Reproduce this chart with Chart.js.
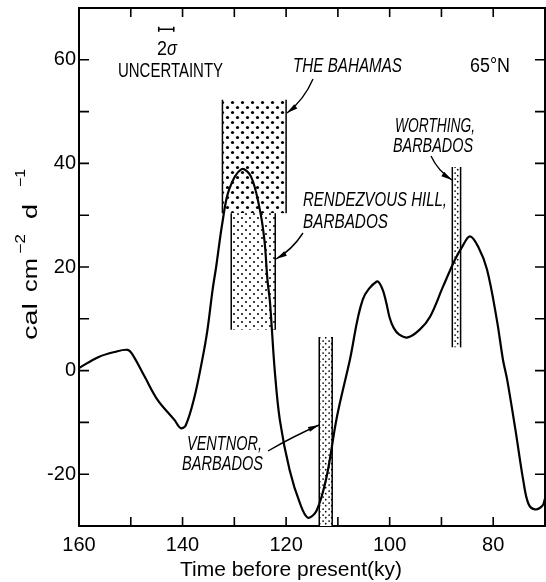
<!DOCTYPE html>
<html>
<head>
<meta charset="utf-8">
<script src="https://cdn.jsdelivr.net/npm/chart.js@4.4.0/dist/chart.umd.min.js"></script>
<style>
  html, body { margin: 0; padding: 0; background: #fff; }
</style>
</head>
<body>
<canvas id="insolationChart" width="546" height="582"></canvas>
<script>
// insolation anomaly curve, 65 N
const ages = [160, 156.3, 153.1, 150.6, 149.6, 147.3, 144.8, 141.5, 140.4, 139.4, 137.7, 136.1, 135.2, 134.2, 133.5,
  132.3, 131.0, 128.6, 126.8, 125.2, 124.2, 123.6, 123.1, 122.2, 121.2, 119.3, 117.3, 115.8, 114.1, 112.2,
  110.2, 107.7, 105.2, 102.5, 101.5, 100.7, 100.0, 99.2, 98.2, 96.5, 94.2, 92.2, 89.7, 87.4, 86.0, 84.5, 82.9,
  81.2, 79.3, 78.1, 77.3, 75.7, 74.2, 73.2, 71.9, 70.5, 70.0];
const insolation = [0.5, 2.6, 3.6, 4.0, 3.0, -1.2, -5.7, -9.6, -11.1, -10.6, -5.1, 2.6, 7.8, 15.6, 20.1,
  28.6, 35.0, 38.9, 37.5, 31.7, 25.3, 17.5, 13.0, 0.1, -9.6, -19.3, -25.7, -28.4, -27.0, -20.6,
  -9.0, 2.0, 13.7, 17.2, 16.0, 13.3, 10.2, 8.2, 7.0, 6.4, 7.9, 10.4, 16.2, 21.4, 23.9, 25.9, 23.9,
  19.5, 9.8, 2.0, -1.8, -11.5, -21.2, -25.7, -26.8, -26.1, -24.7];

const xTickLabels = [160, 140, 120, 100, 80];
const yTickLabels = [60, 40, 20, 0, -20];

// dated reef terraces (age range in ky, insolation range)
const sites = ['THE BAHAMAS', 'RENDEZVOUS HILL, BARBADOS', 'VENTNOR, BARBADOS', 'WORTHING, BARBADOS'];
const siteOldest = [132.3, 130.6, 113.6, 87.9];
const siteYoungest = [120.0, 122.1, 111.1, 86.3];
const siteLow = [30.4, 7.9, -30, 4.5];
const siteHigh = [52.3, 30.4, 6.5, 39.3];

// 2 sigma age uncertainty bar
const sigmaFrom = 144.6;
const sigmaTo = 141.7;
const sigmaLevel = 65.9;

function dotPattern(step, r) {
  const c = document.createElement('canvas');
  c.width = step * 2; c.height = step * 2;
  const g = c.getContext('2d');
  g.fillStyle = '#000';
  [[0.5, 0.5], [1.5, 1.5]].forEach(p => {
    g.beginPath();
    g.arc(p[0] * step, p[1] * step, r, 0, Math.PI * 2);
    g.fill();
  });
  return g.createPattern(c, 'repeat');
}

const ctx = document.getElementById('insolationChart');
const fills = [dotPattern(5, 1.6), dotPattern(4, 1.0), dotPattern(3.4, 0.85), dotPattern(3.4, 0.85)];

function fitText(c, text, x, y, w, font) {
  c.save();
  c.font = font;
  const m = c.measureText(text).width;
  c.translate(x, y);
  c.scale(w / m, 1);
  c.fillText(text, 0, 0);
  c.restore();
}

function arrow(c, x0, y0, cx, cy, x1, y1) {
  c.beginPath();
  c.moveTo(x0, y0);
  c.quadraticCurveTo(cx, cy, x1, y1);
  c.stroke();
  const a = Math.atan2(y1 - cy, x1 - cx);
  c.save();
  c.translate(x1, y1);
  c.rotate(a);
  c.beginPath();
  c.moveTo(0, 0);
  c.lineTo(-11, -2.6);
  c.lineTo(-11, 2.6);
  c.closePath();
  c.fill();
  c.restore();
}

const decorations = {
  id: 'decorations',
  beforeDatasetsDraw(chart) {
    const c = chart.ctx, xs = chart.scales.x, ys = chart.scales.y, area = chart.chartArea;
    c.save();
    c.beginPath();
    c.rect(area.left, area.top, area.right - area.left, area.bottom - area.top);
    c.clip();
    sites.forEach((s, i) => {
      const x0 = xs.getPixelForValue(siteOldest[i]);
      const x1 = xs.getPixelForValue(siteYoungest[i]);
      const y0 = ys.getPixelForValue(siteHigh[i]);
      const y1 = ys.getPixelForValue(siteLow[i]);
      c.fillStyle = '#fff';
      c.fillRect(x0, y0, x1 - x0, y1 - y0);
      c.fillStyle = fills[i];
      c.fillRect(x0, y0, x1 - x0, y1 - y0);
      c.strokeStyle = '#000';
      c.lineWidth = 1.5;
      c.beginPath();
      c.moveTo(x0, y0); c.lineTo(x0, y1);
      c.moveTo(x1, y0); c.lineTo(x1, y1);
      c.stroke();
    });
    c.restore();
  },
  afterDraw(chart) {
    const c = chart.ctx, xs = chart.scales.x, ys = chart.scales.y, a = chart.chartArea;
    c.save();
    c.strokeStyle = '#000';
    c.fillStyle = '#000';
    // frame top and right
    c.lineWidth = 2;
    c.beginPath();
    c.moveTo(a.left, a.top); c.lineTo(a.right, a.top); c.lineTo(a.right, a.bottom);
    c.stroke();
    // inward tick marks every 10 units
    c.lineWidth = 1.6;
    c.beginPath();
    for (let v = Math.ceil(xs.min / 10) * 10; v <= xs.max; v += 10) {
      const px = xs.getPixelForValue(v);
      if (px <= a.left + 2 || px >= a.right - 2) continue;
      c.moveTo(px, a.bottom); c.lineTo(px, a.bottom - 9);
      c.moveTo(px, a.top); c.lineTo(px, a.top + 9);
    }
    for (let v = Math.ceil(ys.min / 10) * 10; v <= ys.max; v += 10) {
      const py = ys.getPixelForValue(v);
      if (py >= a.bottom - 2 || py <= a.top + 2) continue;
      c.moveTo(a.left, py); c.lineTo(a.left + 10, py);
      c.moveTo(a.right, py); c.lineTo(a.right - 10, py);
    }
    c.stroke();

    // 2 sigma bar
    const sx0 = xs.getPixelForValue(sigmaFrom), sx1 = xs.getPixelForValue(sigmaTo), sy = ys.getPixelForValue(sigmaLevel);
    c.lineWidth = 1.6;
    c.beginPath();
    c.moveTo(sx0, sy); c.lineTo(sx1, sy);
    c.moveTo(sx0, sy - 2.5); c.lineTo(sx0, sy + 2.5);
    c.moveTo(sx1, sy - 2.5); c.lineTo(sx1, sy + 2.5);
    c.stroke();

    const up = '20px "Liberation Sans", Arial, sans-serif';
    const it = 'italic 20px "Liberation Sans", Arial, sans-serif';
    c.textBaseline = 'alphabetic';
    c.textAlign = 'left';
    fitText(c, '2', 157, 55, 10, up);
    fitText(c, '\u03c3', 167, 55, 10, it);
    fitText(c, 'UNCERTAINTY', 118, 77, 105, up);
    fitText(c, '65\u00b0N', 470, 72, 40, up);
    fitText(c, 'THE BAHAMAS', 293, 72, 109, it);
    fitText(c, 'WORTHING,', 395, 132, 80, it);
    fitText(c, 'BARBADOS', 393, 152, 80, it);
    fitText(c, 'RENDEZVOUS HILL,', 303, 206, 144, it);
    fitText(c, 'BARBADOS', 303, 228, 85, it);
    fitText(c, 'VENTNOR,', 187, 450, 75, it);
    fitText(c, 'BARBADOS', 182, 470, 81, it);

    c.lineWidth = 1.4;
    arrow(c, 313, 79, 304, 100, 287, 113);
    arrow(c, 303, 233, 292, 250, 276, 259);
    arrow(c, 431, 156, 438, 171, 452, 180);
    arrow(c, 268, 451, 292, 437, 319, 425);

    // axis titles
    fitText(c, 'Time before present(ky)', 180, 576, 222, '21px "Liberation Sans", Arial, sans-serif');
    c.save();
    c.translate(37, 340);
    c.rotate(-Math.PI / 2);
    const tf = '21px "Liberation Sans", Arial, sans-serif';
    const sf = '14px "Liberation Sans", Arial, sans-serif';
    fitText(c, 'cal', 0, 0, 37, tf);
    fitText(c, 'cm', 48, 0, 34, tf);
    fitText(c, '\u22122', 86, -12, 20, sf);
    fitText(c, 'd', 121, 0, 15, tf);
    fitText(c, '\u22121', 153, -12, 18, sf);
    c.restore();
    c.restore();
  }
};

new Chart(ctx, {
  type: 'line',
  data: {
    datasets: [{
      label: '65\u00b0N',
      data: ages.map((a, i) => ({ x: a, y: insolation[i] })),
      borderColor: '#000',
      borderWidth: 2.2,
      pointRadius: 0,
      fill: false,
      tension: 0.35
    }]
  },
  options: {
    responsive: false,
    animation: false,
    layout: { padding: { top: 8, right: 1, left: 0, bottom: 0 } },
    plugins: {
      legend: { display: false },
      tooltip: { enabled: false }
    },
    scales: {
      x: {
        type: 'linear',
        reverse: true,
        min: 70,
        max: 160,
        afterFit: s => { s.height = 56; s.paddingLeft = 0; s.paddingRight = 0; },
        afterBuildTicks: s => { s.ticks = xTickLabels.map(v => ({ value: v })); },
        grid: { display: false, drawTicks: false },
        border: { display: true, color: '#000', width: 2 },
        ticks: {
          color: '#000',
          font: { family: '"Liberation Sans", Arial, sans-serif', size: 20 },
          padding: 7,
          maxRotation: 0,
          autoSkip: false
        }
      },
      y: {
        min: -30,
        max: 70,
        afterFit: s => { s.width = 79; s.paddingTop = 0; s.paddingBottom = 0; },
        afterBuildTicks: s => { s.ticks = yTickLabels.map(v => ({ value: v })); },
        grid: { display: false, drawTicks: false },
        border: { display: true, color: '#000', width: 2 },
        ticks: {
          color: '#000',
          font: { family: '"Liberation Sans", Arial, sans-serif', size: 20 },
          padding: 3,
          autoSkip: false
        }
      }
    }
  },
  plugins: [decorations]
});
</script>
</body>
</html>
